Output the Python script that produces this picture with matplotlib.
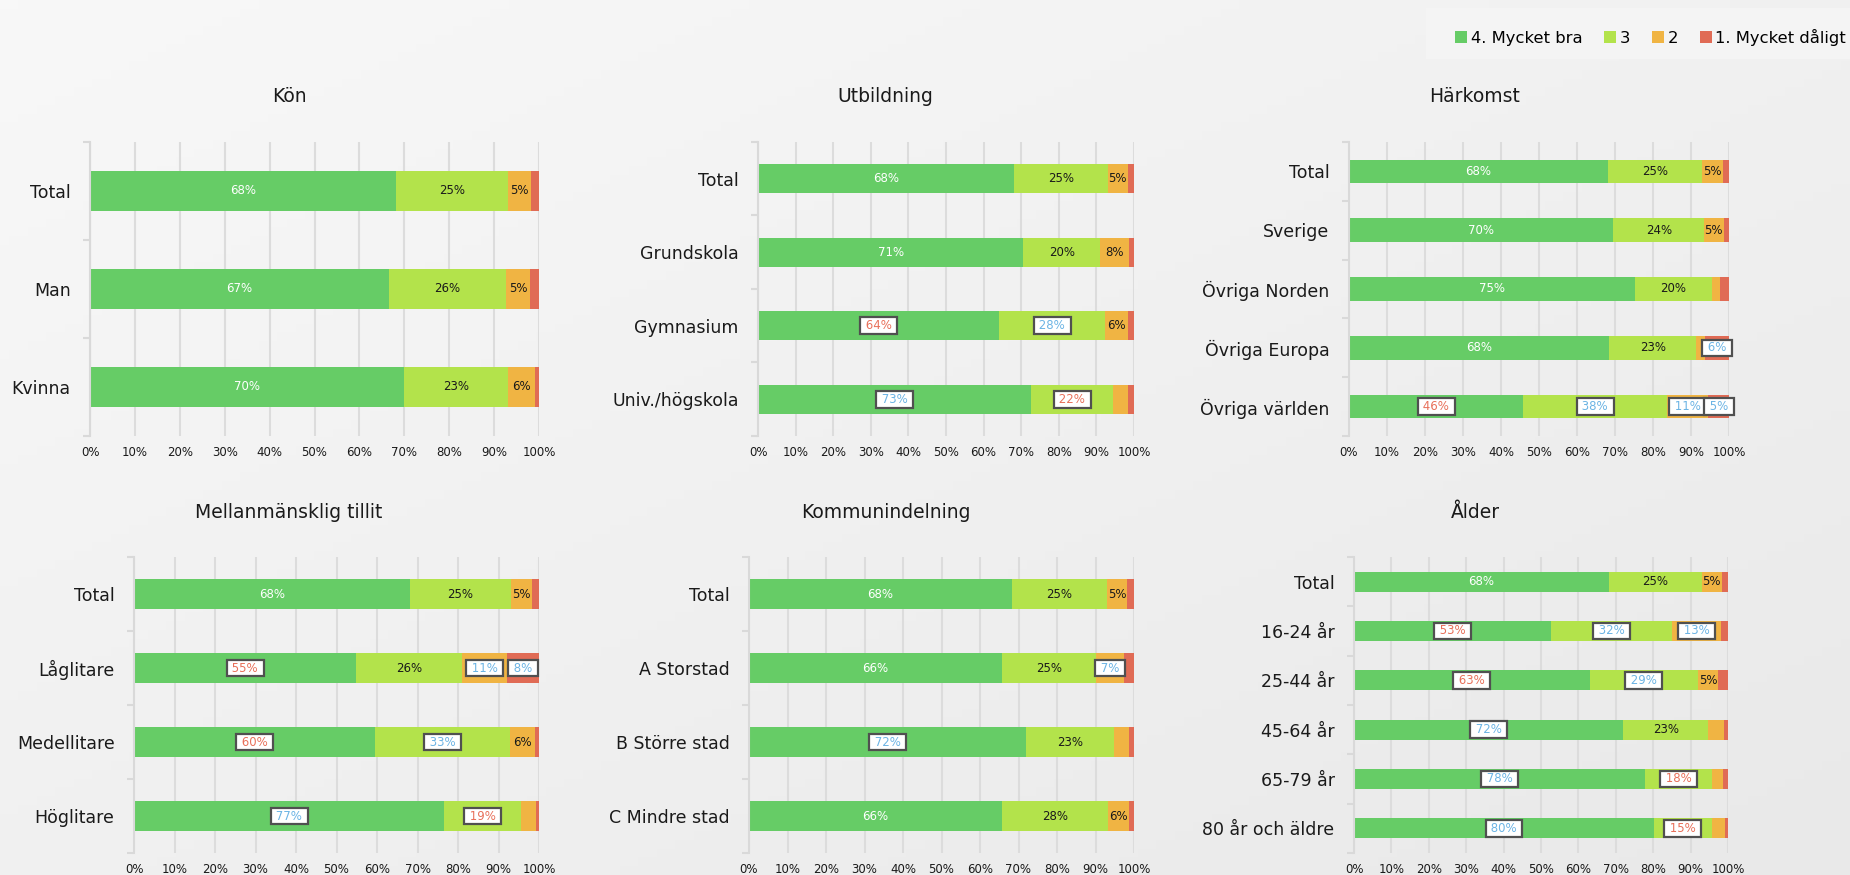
import numpy as np
import matplotlib
matplotlib.use("Agg")
import matplotlib.pyplot as plt
from matplotlib.patches import Patch, Rectangle
from matplotlib.colors import LinearSegmentedColormap

plt.rcParams["font.family"] = ["DejaVu Sans"]

W, H = 1850, 875

series = ["4. Mycket bra", "3", "2", "1. Mycket dåligt"]
colors = ["#66cc66", "#b3e34b", "#f0b443", "#e06b55"]
box_text = {"r": "#e8705a", "b": "#6cb4e4"}

# values per row: [4, 3, 2, 1]; marks: r = lower (red box), b = higher (blue box)
kon_cats = ["Total", "Man", "Kvinna"]
kon_vals = [[68.2, 24.8, 5.3, 1.7],
            [66.6, 26.1, 5.2, 2.1],
            [69.9, 23.2, 5.9, 1.0]]
kon_marks = ["....", "....", "...."]

utb_cats = ["Total", "Grundskola", "Gymnasium", "Univ./högskola"]
utb_vals = [[68.2, 24.8, 5.3, 1.7],
            [70.6, 20.4, 7.8, 1.2],
            [64.1, 28.3, 6.0, 1.6],
            [72.6, 21.9, 3.8, 1.7]]
utb_marks = ["....", "....", "rb..", "br.."]

hark_cats = ["Total", "Sverige", "Övriga Norden", "Övriga Europa", "Övriga världen"]
hark_vals = [[68.2, 24.8, 5.3, 1.7],
             [69.6, 23.8, 5.2, 1.4],
             [75.2, 20.3, 2.1, 2.4],
             [68.5, 22.9, 2.2, 6.4],
             [45.9, 37.7, 11.0, 5.4]]
hark_marks = ["....", "....", "....", "...b", "rbbb"]

tillit_cats = ["Total", "Låglitare", "Medellitare", "Höglitare"]
tillit_vals = [[68.2, 24.8, 5.3, 1.7],
               [54.9, 26.0, 11.3, 7.8],
               [59.6, 33.2, 6.1, 1.1],
               [76.6, 19.0, 3.6, 0.8]]
tillit_marks = ["....", "r.bb", "rb..", "br.."]

kommun_cats = ["Total", "A Storstad", "B Större stad", "C Mindre stad"]
kommun_vals = [[68.2, 24.8, 5.3, 1.7],
               [65.6, 24.6, 7.3, 2.5],
               [72.0, 22.8, 3.9, 1.3],
               [65.6, 27.6, 5.6, 1.2]]
kommun_marks = ["....", "..b.", "b...", "...."]

alder_cats = ["Total", "16-24 år", "25-44 år", "45-64 år", "65-79 år", "80 år och äldre"]
alder_vals = [[68.2, 24.8, 5.3, 1.7],
              [52.8, 32.1, 13.3, 1.8],
              [63.0, 29.0, 5.3, 2.7],
              [72.0, 22.7, 4.1, 1.2],
              [77.8, 17.8, 3.1, 1.3],
              [80.2, 15.4, 3.6, 0.8]]
alder_marks = ["....", "rbb.", "rb..", "b...", "br..", "br.."]

# (title, cats, vals, marks, axes box in px (x, top, w, h), title centre in px)
panels = [
    ("Kön", kon_cats, kon_vals, kon_marks, (90, 142, 449, 294), (289, 96)),
    ("Utbildning", utb_cats, utb_vals, utb_marks, (758, 142, 376, 294), (885, 96)),
    ("Härkomst", hark_cats, hark_vals, hark_marks, (1349, 142, 380, 294), (1475, 96)),
    ("Mellanmänsklig tillit", tillit_cats, tillit_vals, tillit_marks, (134, 557, 405, 296), (289, 512)),
    ("Kommunindelning", kommun_cats, kommun_vals, kommun_marks, (749, 557, 385, 296), (886, 512)),
    ("Ålder", alder_cats, alder_vals, alder_marks, (1354, 557, 374, 296), (1475, 512)),
]


def draw_panel(ax, cats, vals, marks):
    vals = np.asarray(vals, dtype=float)
    ypos = np.arange(len(cats))
    left = np.zeros(len(cats))
    for j in range(vals.shape[1]):
        ax.barh(ypos, vals[:, j], left=left, height=0.4, color=colors[j],
                linewidth=0, zorder=2)
        for i in range(len(cats)):
            v = vals[i, j]
            cx = left[i] + v / 2
            m = marks[i][j]
            if m in box_text:
                ax.text(cx, i, f" {round(v)}% ", ha="center", va="center", fontsize=8.5,
                        color=box_text[m], zorder=4,
                        bbox=dict(boxstyle="square,pad=0.15", fc="white", ec="#505050", lw=1.6))
            elif round(v) >= 5:
                ax.text(cx, i, f"{round(v)}%", ha="center", va="center", fontsize=8.5,
                        color="white" if j == 0 else "#1a1a1a", zorder=3)
        left += vals[:, j]

    ax.set_xlim(0, 100)
    ax.set_ylim(len(cats) - 0.5, -0.5)
    ticks = np.arange(0, 101, 10)
    ax.set_xticks(ticks)
    ax.set_xticklabels([f"{t}%" for t in ticks])
    ax.set_yticks(ypos)
    ax.set_yticklabels(cats, fontsize=12.5, color="#1a1a1a")
    ax.set_yticks(np.arange(len(cats) + 1) - 0.5, minor=True)
    ax.tick_params(axis="y", which="major", length=0, pad=14)
    ax.tick_params(axis="y", which="minor", length=5, color="#d9d9d9", width=1.5)
    ax.tick_params(axis="x", length=0, pad=7, labelsize=8.5, labelcolor="#1a1a1a")
    ax.grid(axis="x", color="#dcdcdc", lw=1.5)
    ax.set_axisbelow(True)
    for s in ["top", "right", "bottom"]:
        ax.spines[s].set_visible(False)
    ax.spines["left"].set_color("#d9d9d9")
    ax.spines["left"].set_linewidth(1.5)
    ax.set_facecolor("none")


fig = plt.figure(figsize=(W / 100, H / 100), dpi=100)

# soft gray background gradient
bg = fig.add_axes([0, 0, 1, 1], zorder=-10)
gx, gy = np.meshgrid(np.linspace(0, 1, 200), np.linspace(0, 1, 100))
grad = (gx + gy) / 2
cmap = LinearSegmentedColormap.from_list("bg", ["#f8f8f8", "#e9e9e9"])
bg.imshow(grad, extent=[0, 1, 0, 1], aspect="auto", cmap=cmap, origin="upper")
bg.axis("off")

for title, cats, vals, marks, (x, y, w, h), (tx, ty) in panels:
    ax = fig.add_axes([x / W, 1 - (y + h) / H, w / W, h / H])
    draw_panel(ax, cats, vals, marks)
    fig.text(tx / W, 1 - ty / H, title, ha="center", va="center", fontsize=13.5, color="#1a1a1a")

# legend
fig.patches.append(Rectangle((1426 / W, 1 - 59 / H), 424 / W, 51 / H,
                             transform=fig.transFigure, fc="#f4f4f4", ec="none", zorder=-5))
handles = [Patch(facecolor=c, edgecolor="none") for c in colors]
fig.legend(handles, series, loc="center right", bbox_to_anchor=(1846 / W, 1 - 37 / H),
           ncol=4, frameon=False, fontsize=11.8, handlelength=0.73, handleheight=0.73,
           handletextpad=0.2, columnspacing=1.35, borderpad=0, borderaxespad=0)

fig.savefig("out.png", dpi=100)
